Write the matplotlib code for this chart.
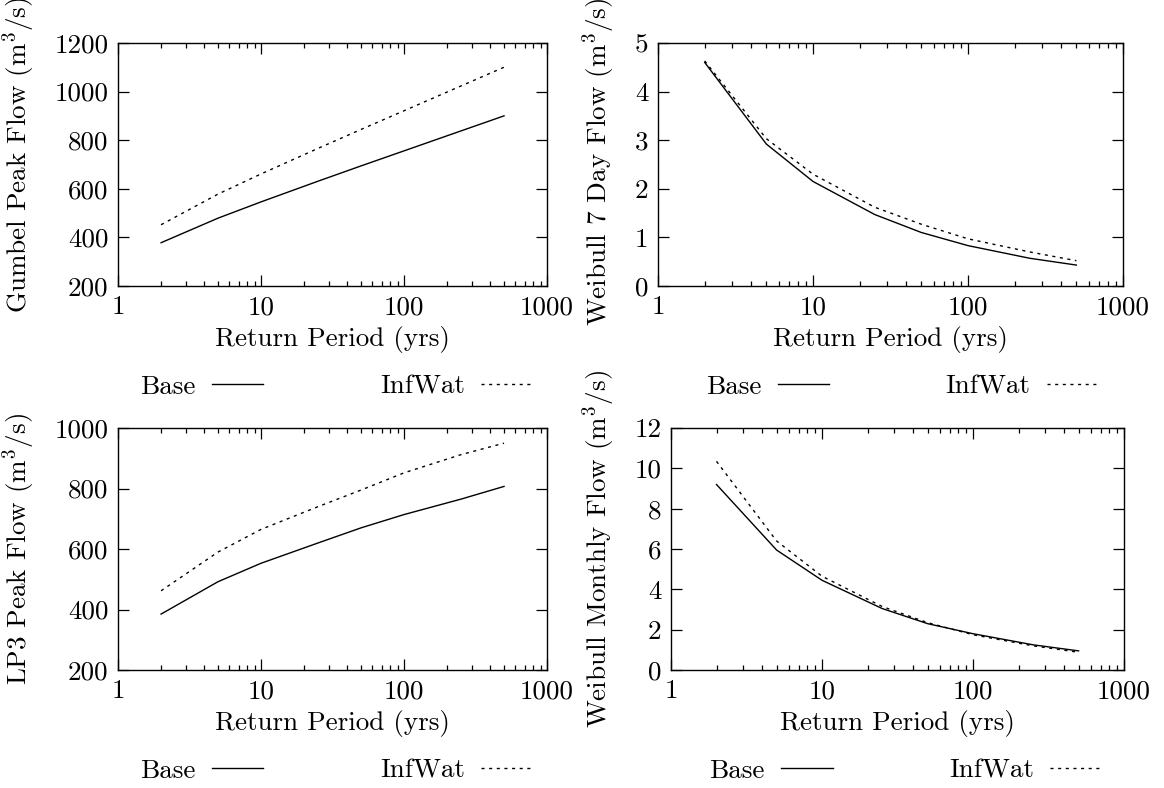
import matplotlib
matplotlib.use("Agg")
import matplotlib.pyplot as plt
from matplotlib.ticker import FixedLocator, LogLocator, NullFormatter, FixedFormatter

plt.rcParams["font.family"] = "cmr10"
plt.rcParams["mathtext.fontset"] = "cm"
plt.rcParams["axes.unicode_minus"] = False
plt.rcParams["axes.formatter.use_mathtext"] = True

# return periods (yrs)
periods = [2, 5, 10, 25, 50, 100, 250, 500]

# Gumbel peak flow (m3/s)
gumbel_base = [378, 479, 546, 631, 694, 756, 838, 900]
gumbel_infwat = [452, 578, 661, 766, 844, 921, 1023, 1100]

# Weibull 7 day flow (m3/s)
weib7_base = [4.60, 2.92, 2.15, 1.47, 1.10, 0.83, 0.57, 0.43]
weib7_infwat = [4.63, 3.03, 2.30, 1.62, 1.27, 0.97, 0.70, 0.52]

# LP3 peak flow (m3/s)
lp3_base = [385, 492, 553, 620, 670, 714, 765, 807]
lp3_infwat = [462, 590, 665, 740, 795, 852, 912, 950]

# Weibull monthly flow (m3/s)
weibm_base = [9.2, 5.95, 4.45, 3.05, 2.30, 1.80, 1.25, 0.95]
weibm_infwat = [10.35, 6.40, 4.65, 3.15, 2.35, 1.75, 1.20, 0.88]

panels = [
    # rect, ylabel, base, infwat, yticks, ylabel pos, legend center
    ([0.1014, 0.6371, 0.3686, 0.3084], r"Gumbel Peak Flow (m$^3$/s)",
     gumbel_base, gumbel_infwat, [200, 400, 600, 800, 1000, 1200], (-0.189, 0.54), (0.289, 0.509)),
    ([0.5653, 0.6371, 0.3995, 0.3084], r"Weibull 7 Day Flow (m$^3$/s)",
     weib7_base, weib7_infwat, [0, 1, 2, 3, 4, 5], (-0.088, 0.51), (0.775, 0.509)),
    ([0.1014, 0.1497, 0.3686, 0.3071], r"LP3 Peak Flow (m$^3$/s)",
     lp3_base, lp3_infwat, [200, 400, 600, 800, 1000], (-0.189, 0.5), (0.289, 0.022)),
    ([0.5765, 0.1497, 0.3892, 0.3071], r"Weibull Monthly Flow (m$^3$/s)",
     weibm_base, weibm_infwat, [0, 2, 4, 6, 8, 10, 12], (-0.119, 0.5), (0.778, 0.022)),
]

FS = 19.5
fig = plt.figure(figsize=(11.64, 7.88), dpi=100)

for rect, ylab, base, infwat, yticks, ylpos, legpos in panels:
    ax = fig.add_axes(rect)
    l1, = ax.plot(periods, base, color="black", lw=1.0, label="Base")
    l2, = ax.plot(periods, infwat, color="black", lw=1.0,
                  linestyle=(0, (2.2, 3.3)), label="InfWat")
    ax.set_xscale("log")
    ax.set_xlim(1, 1000)
    ax.set_ylim(yticks[0], yticks[-1])
    ax.xaxis.set_major_locator(FixedLocator([1, 10, 100, 1000]))
    ax.xaxis.set_major_formatter(FixedFormatter(["1", "10", "100", "1000"]))
    ax.xaxis.set_minor_locator(LogLocator(base=10, subs=range(2, 10)))
    ax.xaxis.set_minor_formatter(NullFormatter())
    ax.yaxis.set_major_locator(FixedLocator(yticks))
    ax.set_yticklabels([str(t) for t in yticks])
    ax.tick_params(which="both", direction="in", top=True, right=True,
                   labelsize=FS, width=0.9, color="black")
    ax.tick_params(which="major", length=8)
    ax.tick_params(which="minor", length=3.5)
    ax.tick_params(axis="y", pad=7)
    ax.tick_params(axis="x", pad=7)
    for sp in ax.spines.values():
        sp.set_linewidth(1.0)
    ax.set_xlabel("Return Period (yrs)", fontsize=FS, labelpad=5)
    ax.set_ylabel(ylab, fontsize=FS)
    ax.yaxis.set_label_coords(*ylpos)
    fig.legend(handles=[l1, l2], loc="center", bbox_to_anchor=legpos,
               ncol=2, frameon=False, markerfirst=False, fontsize=FS,
               handlelength=1.9, handletextpad=0.6, columnspacing=4.3)

fig.savefig("out.png", dpi=100)
